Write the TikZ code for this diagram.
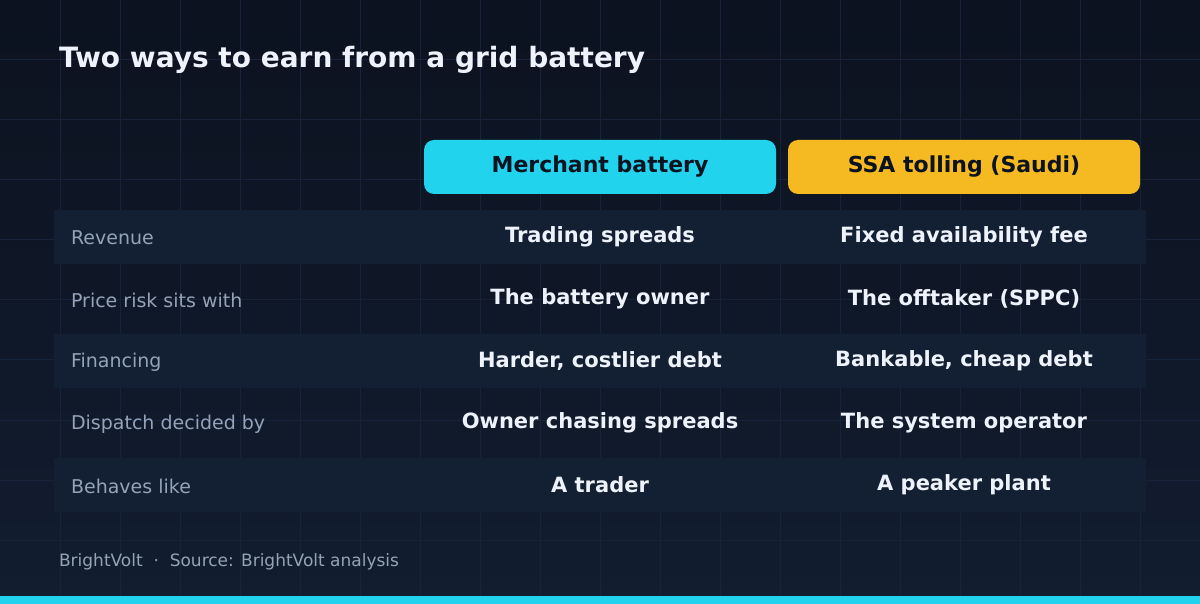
\documentclass[tikz,border=0pt]{standalone}
\usepackage{fontspec}
\setmainfont{DejaVu Sans}
\usetikzlibrary{positioning}
\definecolor{bgtop}{HTML}{0C121F}
\definecolor{bgbot}{HTML}{121D30}
\definecolor{gridc}{HTML}{17233A}
\definecolor{rowc}{HTML}{131F33}
\definecolor{cyanc}{HTML}{22D3EE}
\definecolor{goldc}{HTML}{F5B922}
\definecolor{txtc}{HTML}{EEF2FA}
\definecolor{mutedc}{HTML}{94A3B8}
\definecolor{darkc}{HTML}{0B1220}
\tikzset{
  head/.style={rounded corners=5pt,minimum width=176pt,minimum height=27pt,font=\fontsize{11}{13}\selectfont\bfseries,text=darkc},
  lab/.style={anchor=west,font=\fontsize{9.5}{11}\selectfont,text=mutedc},
  cell/.style={font=\fontsize{10.5}{12}\selectfont\bfseries,text=txtc}
}
\begin{document}
\begin{tikzpicture}[x=0.5pt,y=-0.5pt]
\useasboundingbox (0,0) rectangle (1200,604);
\shade[top color=bgtop,bottom color=bgbot] (0,0) rectangle (1200,604);
\foreach \x in {60,120,...,1140} \draw[gridc,line width=0.5pt] (\x,0) -- (\x,596);
\foreach \y in {0,60,...,540} \draw[gridc,line width=0.5pt] (0,\y) -- (1200,\y);
\fill[cyanc] (0,596) rectangle (1200,604);

\node[anchor=west,text=txtc,font=\fontsize{14}{16}\selectfont\bfseries] (title) at (52,60) {Two ways to earn from a grid battery};

\node[head,fill=cyanc] (merch) at (600,167) {Merchant battery};
\node[head,fill=goldc] (ssa) at (964,167) {SSA tolling (Saudi)};

\foreach \y in {237,361,485} \fill[rowc] (54,\y-27) rectangle (1146,\y+27);

\foreach \l/\a/\b [count=\i] in {Revenue/Trading spreads/Fixed availability fee,
  Price risk sits with/The battery owner/The offtaker (SPPC),
  Financing/{Harder, costlier debt}/{Bankable, cheap debt},
  Dispatch decided by/Owner chasing spreads/The system operator,
  Behaves like/A trader/A peaker plant} {
  \pgfmathsetmacro\yy{237+62*(\i-1)}
  \node[lab] (lab\i) at (64,\yy+1) {\l};
  \node[cell] (m\i) at (600,\yy) {\a};
  \node[cell] (s\i) at (964,\yy) {\b};
}

\node[anchor=west,text=mutedc,font=\fontsize{8.5}{10}\selectfont] (foot) at (52,562) {BrightVolt\ \ ·\ \ Source: BrightVolt analysis};
\end{tikzpicture}
\end{document}
